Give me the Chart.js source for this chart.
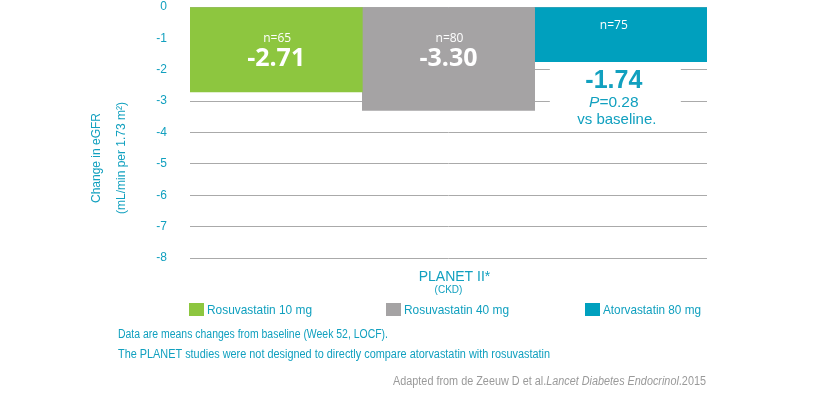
<!DOCTYPE html>
<html>
<head>
<meta charset="utf-8">
<script src="https://cdn.jsdelivr.net/npm/chart.js@4/dist/chart.umd.min.js"></script>
<style>
  html, body { margin: 0; padding: 0; background: #fff; }
  #wrap { width: 821px; height: 397px; position: relative; }
</style>
</head>
<body>
<div id="wrap"><canvas id="egfrChart"></canvas></div>
<script>
// Chart data for PLANET II (CKD)
const categories = ['PLANET II*'];
const categoryNote = '(CKD)';
const seriesNames = ['Rosuvastatin 10 mg', 'Rosuvastatin 40 mg', 'Atorvastatin 80 mg'];
const seriesValues = [-2.71, -3.30, -1.74];
const sampleSizes = [65, 80, 75];
const seriesColors = ['#8dc63f', '#a5a3a4', '#00a0be'];
const yMin = -8;
const yMax = 0;
const yTitle = ['Change in eGFR', '(mL/min per 1.73 m\u00b2)'];
const pValueNote = ['P', '=0.28', 'vs baseline.'];
const footnotes = [
    'Data are means changes from baseline (Week 52, LOCF).',
    'The PLANET studies were not designed to directly compare atorvastatin with rosuvastatin'
];
const sourceNote = ['Adapted from de Zeeuw D et al.', 'Lancet Diabetes Endocrinol', '.2015'];

const teal = '#11a0bf';
const sans = '"Liberation Sans", Arial, sans-serif';
const open = '"Open Sans", sans-serif';

// draw a run of text pieces (fonts may differ), optionally squeezed to a width
function richText(ctx, parts, x, y, align, color, width) {
    ctx.save();
    let w = 0;
    parts.forEach(p => { ctx.font = p.font; w += ctx.measureText(p.text).width; });
    const sx = width ? width / w : 1;
    const total = w * sx;
    const start = align === 'center' ? x - total / 2 : align === 'right' ? x - total : x;
    ctx.translate(start, y);
    ctx.scale(sx, 1);
    ctx.textAlign = 'left';
    ctx.textBaseline = 'middle';
    ctx.fillStyle = color;
    let cx = 0;
    parts.forEach(p => {
        ctx.font = p.font;
        ctx.fillText(p.text, cx, 0);
        cx += ctx.measureText(p.text).width;
    });
    ctx.restore();
}

const annotations = {
    id: 'annotations',
    beforeDatasetsDraw(chart) {
        // white patch behind the value written under the short bar
        const ctx = chart.ctx;
        chart.data.datasets.forEach((ds, i) => {
            const bar = chart.getDatasetMeta(i).data[0];
            if (bar.y - bar.base < 60) {
                ctx.save();
                ctx.fillStyle = '#fff';
                ctx.fillRect(bar.x - 71, bar.y + 2, 131, 62);
                ctx.restore();
            }
        });
    },
    afterDatasetsDraw(chart) {
        const ctx = chart.ctx;
        chart.data.datasets.forEach((ds, i) => {
            const bar = chart.getDatasetMeta(i).data[0];
            const value = ds.data[0].toFixed(2);
            const n = 'n=' + sampleSizes[i];
            if (bar.y - bar.base >= 60) {
                richText(ctx, [{ text: n, font: '12px ' + open }], bar.x + 1, bar.base + 31, 'center', '#fff');
                richText(ctx, [{ text: value, font: 'bold 25px ' + open }], bar.x, bar.base + 51, 'center', '#fff');
            } else {
                const cx = bar.x - 7;
                richText(ctx, [{ text: n, font: '12px ' + open }], cx, bar.base + 18, 'center', '#fff');
                richText(ctx, [{ text: value, font: 'bold 25px ' + sans }], cx, bar.y + 20, 'center', teal);
                richText(ctx, [
                    { text: pValueNote[0], font: 'italic 15.5px ' + sans },
                    { text: pValueNote[1], font: '15.5px ' + sans }
                ], cx, bar.y + 41, 'center', teal);
                richText(ctx, [{ text: pValueNote[2], font: '15px ' + sans }], cx + 3, bar.y + 58, 'center', teal);
            }
        });
    },
    afterDraw(chart) {
        const ctx = chart.ctx;
        // y axis title, two rotated lines
        [97, 122].forEach((x, k) => {
            ctx.save();
            ctx.translate(x, 158);
            ctx.rotate(-Math.PI / 2);
            richText(ctx, [{ text: yTitle[k], font: '12px ' + sans }], 0, 0, 'center', teal);
            ctx.restore();
        });
        // legend
        const boxX = [189, 386, 585];
        const textW = [105, 105, 98];
        chart.data.datasets.forEach((ds, i) => {
            ctx.fillStyle = ds.backgroundColor;
            ctx.fillRect(boxX[i], 303, 15, 13);
            richText(ctx, [{ text: ds.label, font: '13px ' + sans }], boxX[i] + 18, 310, 'left', teal, textW[i]);
        });
        // footnotes
        richText(ctx, [{ text: footnotes[0], font: '12px ' + sans }], 118, 335, 'left', teal, 270);
        richText(ctx, [{ text: footnotes[1], font: '12px ' + sans }], 118, 355, 'left', teal, 432);
        richText(ctx, [
            { text: sourceNote[0], font: '12.5px ' + sans },
            { text: sourceNote[1], font: 'italic 12.5px ' + sans },
            { text: sourceNote[2], font: '12.5px ' + sans }
        ], 706, 382, 'right', '#9a9a9a', 313);
    }
};

const ctx = document.getElementById('egfrChart').getContext('2d');
const egfrChart = new Chart(ctx, {
    type: 'bar',
    data: {
        labels: categories,
        datasets: seriesNames.map((name, i) => ({
            label: name,
            data: [seriesValues[i]],
            backgroundColor: seriesColors[i],
            borderWidth: 0,
            barPercentage: 1,
            categoryPercentage: 1
        }))
    },
    options: {
        responsive: true,
        maintainAspectRatio: false,
        animation: false,
        events: [],
        layout: {
            padding: { left: 150, right: 114, top: 7, bottom: 100 }
        },
        plugins: {
            legend: { display: false },
            tooltip: { enabled: false }
        },
        scales: {
            x: {
                grid: { display: false },
                border: { display: false },
                ticks: {
                    color: teal,
                    font: { family: sans, size: 14 },
                    padding: 3,
                    labelOffset: 6
                },
                title: {
                    display: true,
                    text: categoryNote,
                    color: teal,
                    font: { family: sans, size: 10 },
                    padding: { top: 0, bottom: 1 }
                },
                afterFit: scale => { scale.height = 39; }
            },
            y: {
                min: yMin,
                max: yMax,
                grid: { color: '#aaaaaa', lineWidth: 1, drawTicks: false },
                border: { display: false },
                ticks: {
                    stepSize: 1,
                    color: teal,
                    font: { family: sans, size: 12 },
                    padding: 23
                },
                afterFit: scale => {
                    scale.width = 40;
                    scale.paddingTop = 7;
                    scale.paddingBottom = 7;
                }
            }
        }
    },
    plugins: [annotations]
});
</script>
</body>
</html>
